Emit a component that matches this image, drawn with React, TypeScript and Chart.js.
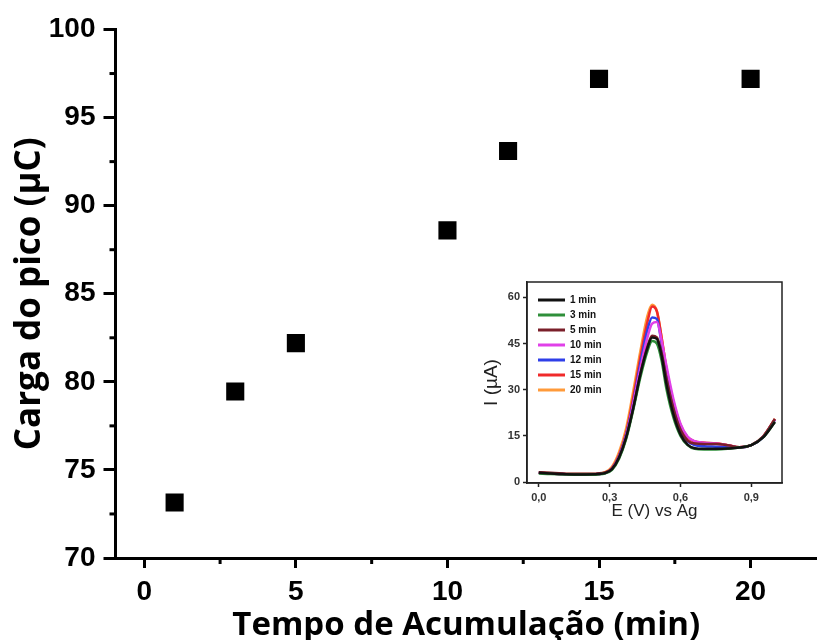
import React, { useEffect, useRef } from 'react';
import { Chart, registerables } from 'chart.js';

Chart.register(...registerables);

// ---------- main chart data ----------
const accumTime = [1, 3, 5, 10, 12, 15, 20];
const peakCharge = [73.15, 79.45, 82.2, 88.6, 93.1, 97.2, 97.2];
const mainXTicks = [0, 5, 10, 15, 20];
const mainYTicks = [70, 75, 80, 85, 90, 95, 100];

// ---------- inset data (voltammograms) ----------
const potential = [0, 0.05, 0.1, 0.15, 0.2, 0.25, 0.28, 0.31, 0.34, 0.37, 0.4, 0.43, 0.46, 0.48, 0.5, 0.52, 0.54, 0.57, 0.6, 0.63, 0.66, 0.7, 0.75, 0.8, 0.85, 0.9, 0.95, 1.0];
const cur1min = [3.0, 2.8, 2.6, 2.5, 2.5, 2.6, 2.9, 4.2, 8.0, 14.5, 24.0, 35.0, 43.5, 47.0, 46.5, 41.0, 32.0, 22.0, 15.5, 12.2, 11.0, 10.8, 10.8, 10.9, 11.2, 12.0, 14.5, 19.5];
const cur3min = [2.8, 2.6, 2.5, 2.4, 2.4, 2.5, 2.8, 4.0, 7.6, 14.0, 23.5, 34.0, 42.5, 45.8, 45.0, 39.5, 30.5, 21.0, 15.0, 12.0, 10.8, 10.6, 10.6, 10.8, 11.2, 12.0, 14.5, 19.5];
const cur5min = [3.2, 3.0, 2.8, 2.7, 2.7, 2.8, 3.1, 4.3, 8.0, 14.5, 24.0, 35.0, 44.0, 47.5, 47.0, 42.0, 34.0, 24.0, 17.0, 13.5, 12.5, 12.4, 12.4, 12.0, 11.3, 12.0, 14.8, 20.5];
const cur10min = [3.0, 2.8, 2.6, 2.5, 2.5, 2.6, 2.9, 4.3, 8.2, 15.0, 25.5, 37.0, 47.0, 51.5, 52.0, 46.0, 38.0, 27.0, 19.0, 14.8, 13.3, 12.8, 12.5, 12.0, 11.3, 12.0, 14.7, 20.3];
const cur12min = [3.0, 2.8, 2.6, 2.5, 2.5, 2.6, 2.9, 4.4, 8.4, 15.4, 26.0, 38.5, 49.5, 53.5, 53.0, 45.0, 35.5, 24.5, 17.0, 13.3, 12.0, 11.6, 11.5, 11.4, 11.2, 12.0, 14.6, 20.2];
const cur15min = [3.0, 2.8, 2.6, 2.5, 2.5, 2.6, 3.0, 4.6, 8.8, 16.0, 27.5, 40.5, 52.0, 57.0, 55.5, 47.0, 37.0, 26.0, 18.5, 14.5, 13.2, 12.8, 12.6, 12.0, 11.3, 12.0, 14.8, 20.5];
const cur20min = [3.1, 2.9, 2.7, 2.6, 2.6, 2.7, 3.2, 5.0, 9.8, 17.5, 29.5, 42.5, 54.0, 57.6, 55.5, 47.0, 37.0, 26.0, 18.6, 14.6, 13.2, 12.8, 12.5, 12.0, 11.3, 12.0, 14.8, 20.5];
const insetSeries = [cur1min, cur3min, cur5min, cur10min, cur12min, cur15min, cur20min];
const insetLabels = ['1 min', '3 min', '5 min', '10 min', '12 min', '15 min', '20 min'];
const insetColors = ['#111111', '#2f8f3a', '#7a1f2a', '#e040e8', '#2f3fe8', '#f02a2a', '#ff9a3a'];
const insetXTicks = [0, 0.3, 0.6, 0.9];
const insetYTicks = [0, 15, 30, 45, 60];

const minorTickPlugin = {
  id: 'minorTicks',
  afterDraw(chart: any, _args: any, opts: any) {
    if (!opts || !opts.enabled) return;
    const ctx = chart.ctx;
    ctx.save();
    ctx.strokeStyle = '#000';
    ctx.lineWidth = opts.width;
    ['x', 'y'].forEach((id) => {
      const s = chart.scales[id];
      const vals = s.ticks.map((t: any) => t.value);
      for (let i = 0; i < vals.length - 1; i++) {
        const v = (vals[i] + vals[i + 1]) / 2;
        const p = s.getPixelForValue(v);
        ctx.beginPath();
        if (id === 'x') {
          ctx.moveTo(p, s.top);
          ctx.lineTo(p, s.top + opts.length);
        } else {
          ctx.moveTo(s.right, p);
          ctx.lineTo(s.right - opts.length, p);
        }
        ctx.stroke();
      }
    });
    ctx.restore();
  },
};

const frameBoxPlugin = {
  id: 'frameBox',
  beforeDraw(chart: any, _args: any, opts: any) {
    if (chart.legend && opts && opts.legendDx !== undefined) {
      chart.legend.left = chart.chartArea.left + opts.legendDx;
      chart.legend.top = chart.chartArea.top + opts.legendDy;
    }
  },
  afterDraw(chart: any, _args: any, opts: any) {
    if (!opts || !opts.enabled) return;
    const { left, right, top, bottom } = chart.chartArea;
    const ctx = chart.ctx;
    ctx.save();
    ctx.strokeStyle = opts.color;
    ctx.lineWidth = opts.width;
    ctx.strokeRect(left, top, right - left, bottom - top);
    ctx.restore();
  },
};

export default function App() {
  const mainRef = useRef<HTMLCanvasElement>(null);
  const insetRef = useRef<HTMLCanvasElement>(null);

  useEffect(() => {
    const tickFont = { family: '"Liberation Sans", Arial, sans-serif', size: 28, weight: 'bold' as const };
    const main = new Chart(mainRef.current!, {
      type: 'scatter',
      data: {
        datasets: [
          {
            data: accumTime.map((t, i) => ({ x: t, y: peakCharge[i] })),
            pointStyle: 'rect',
            pointRadius: 12.8,
            backgroundColor: '#000',
            borderWidth: 0,
          },
        ],
      },
      options: {
        responsive: false,
        animation: false,
        layout: { autoPadding: false, padding: { top: 29.5, right: 0, left: 0, bottom: 0 } },
        plugins: {
          legend: { display: false },
          tooltip: { enabled: false },
          minorTicks: { enabled: true, length: 6, width: 3 },
        } as any,
        scales: {
          x: {
            type: 'linear',
            min: -0.95,
            max: 22.19,
            afterBuildTicks: (s: any) => { s.ticks = mainXTicks.map((v) => ({ value: v })); },
            afterFit: (s: any) => { s.height = 82; s.paddingRight = 0; s.paddingLeft = 0; },
            border: { display: true, width: 3, color: '#000' },
            grid: { display: true, drawOnChartArea: false, drawTicks: true, tickLength: 10, tickWidth: 3, tickColor: '#000' },
            ticks: { color: '#000', font: tickFont, padding: 7, maxRotation: 0 },
            title: {
              display: true,
              text: 'Tempo de Acumulação (min)',
              color: '#000',
              font: { family: '"Open Sans", sans-serif', size: 33, weight: 'bold' },
              padding: { top: 0, bottom: -5 },
            },
          },
          y: {
            type: 'linear',
            min: 70,
            max: 100,
            afterBuildTicks: (s: any) => { s.ticks = mainYTicks.map((v) => ({ value: v })); },
            afterFit: (s: any) => { s.width = 115.5; },
            border: { display: true, width: 3, color: '#000' },
            grid: { display: true, drawOnChartArea: false, drawTicks: true, tickLength: 12, tickWidth: 3, tickColor: '#000' },
            ticks: { color: '#000', font: tickFont, padding: 8 },
            title: {
              display: true,
              text: 'Carga do pico (µC)',
              color: '#000',
              font: { family: '"Open Sans", sans-serif', size: 35, weight: 'bold' },
              padding: { top: 9, bottom: 0 },
            },
          },
        },
      },
      plugins: [minorTickPlugin],
    });

    const insetTickFont = { family: '"Liberation Sans", Arial, sans-serif', size: 11, weight: 'bold' as const };
    const inset = new Chart(insetRef.current!, {
      type: 'line',
      data: {
        datasets: insetSeries.map((arr, k) => ({
          label: insetLabels[k],
          data: potential.map((e, i) => ({ x: e, y: arr[i] })),
          borderColor: insetColors[k],
          backgroundColor: insetColors[k],
          borderWidth: 2.5,
          pointRadius: 0,
          cubicInterpolationMode: 'monotone' as const,
          fill: false,
        })),
      },
      options: {
        responsive: false,
        animation: false,
        layout: { autoPadding: false, padding: { top: 12, right: 13, left: 0, bottom: 0 } },
        plugins: {
          tooltip: { enabled: false },
          frameBox: { enabled: true, color: '#222', width: 1.5, legendDx: 6, legendDy: 8 },
          legend: {
            display: true,
            position: 'chartArea',
            align: 'start',
            labels: {
              boxWidth: 27,
              boxHeight: 3,
              padding: 5,
              color: '#111',
              font: { family: '"Liberation Sans", Arial, sans-serif', size: 10, weight: 'bold' },
              generateLabels: (chart: any) =>
                (Chart.defaults.plugins.legend.labels.generateLabels as any)(chart).map((l: any) => ({ ...l, lineWidth: 0 })),
            },
          },
        } as any,
        scales: {
          x: {
            type: 'linear',
            min: -0.05,
            max: 1.03,
            afterBuildTicks: (s: any) => { s.ticks = insetXTicks.map((v) => ({ value: v })); },
            afterFit: (s: any) => { s.height = 52; s.paddingRight = 0; s.paddingLeft = 0; },
            border: { display: true, width: 1.5, color: '#222' },
            grid: { display: true, drawOnChartArea: false, drawTicks: true, tickLength: 4, tickWidth: 1.5, tickColor: '#222' },
            ticks: {
              color: '#333',
              font: insetTickFont,
              padding: 4,
              maxRotation: 0,
              callback: (v: any) => Number(v).toFixed(1).replace('.', ','),
            },
            title: {
              display: true,
              text: 'E (V) vs Ag',
              color: '#222',
              font: { family: '"Liberation Sans", Arial, sans-serif', size: 17 },
              padding: { top: 0, bottom: 13 },
            },
          },
          y: {
            type: 'linear',
            min: -0.3,
            max: 65,
            afterBuildTicks: (s: any) => { s.ticks = insetYTicks.map((v) => ({ value: v })); },
            afterFit: (s: any) => { s.width = 57; },
            border: { display: true, width: 1.5, color: '#222' },
            grid: { display: true, drawOnChartArea: false, drawTicks: true, tickLength: 4, tickWidth: 1.5, tickColor: '#222' },
            ticks: { color: '#333', font: insetTickFont, padding: 3 },
            title: {
              display: true,
              text: 'I (µA)',
              color: '#222',
              font: { family: '"Liberation Sans", Arial, sans-serif', size: 19 },
              padding: { top: 10, bottom: 0 },
            },
          },
        },
      },
      plugins: [frameBoxPlugin],
    });

    return () => {
      main.destroy();
      inset.destroy();
    };
  }, []);

  return (
    <div style={{ position: 'absolute', left: 0, top: 0, width: 817, height: 640, background: '#fff', overflow: 'hidden' }}>
      <canvas ref={mainRef} width={817} height={640} style={{ position: 'absolute', left: 0, top: 0 }} />
      <canvas ref={insetRef} width={325} height={265} style={{ position: 'absolute', left: 470, top: 270 }} />
    </div>
  );
}
